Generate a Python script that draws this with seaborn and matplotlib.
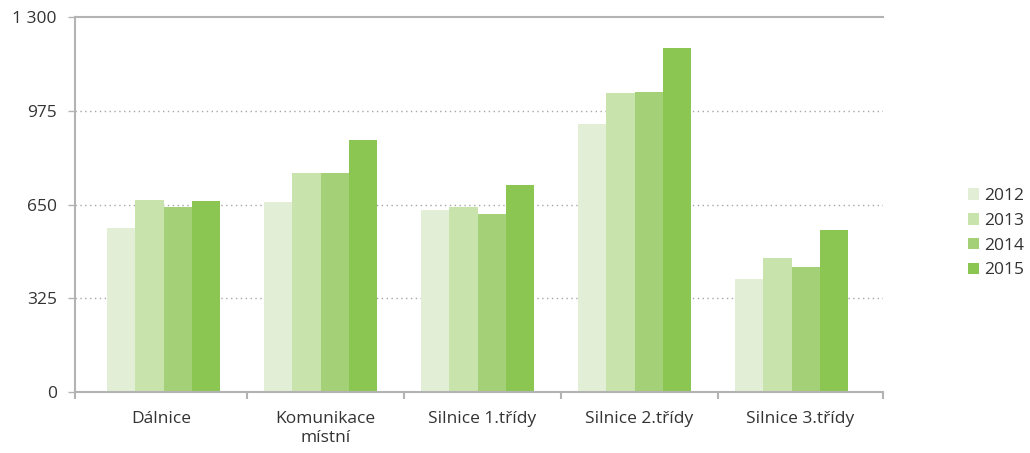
#!/usr/bin/env python

import matplotlib.pyplot as plt
import pandas as pd
import seaborn as sns

CATEGORIES = ["Dálnice", "Komunikace\nmístní", "Silnice 1.třídy", "Silnice 2.třídy", "Silnice 3.třídy"]
YEARS = ["2012", "2013", "2014", "2015"]
V2012 = [568, 659, 631, 929, 392]
V2013 = [665, 759, 641, 1036, 464]
V2014 = [641, 759, 617, 1040, 433]
V2015 = [662, 873, 717, 1192, 562]
COLORS = ["#e2efd6", "#c8e3ac", "#a4d077", "#8bc653"]
YTICKS = [0, 325, 650, 975, 1300]
YTICK_LABELS = ["0", "325", "650", "975", "1 300"]


def main():
    rows = []
    for year, vals in zip(YEARS, [V2012, V2013, V2014, V2015]):
        for cat, v in zip(CATEGORIES, vals):
            rows.append({"kategorie": cat, "rok": year, "hodnota": v})
    data = pd.DataFrame(rows)

    sns.set_style("white")
    plt.rcParams["font.family"] = ["Open Sans", "DejaVu Sans"]
    grey = "#b3b3b3"
    text = "#333333"

    fig = plt.figure(figsize=(10.3, 4.53), dpi=100)
    ax = fig.add_axes([75 / 1030, 1 - 392 / 453, 808 / 1030, 375 / 453])

    sns.barplot(data=data, x="kategorie", y="hodnota", hue="rok",
                order=CATEGORIES, hue_order=YEARS, palette=COLORS,
                width=0.72, gap=0, saturation=1, linewidth=0, ax=ax)

    # the groups sit a bit off the category slots, like the original
    left, right = -0.564, 4.582
    ax.set_xlim(left, right)
    ax.set_ylim(0, 1300)
    ax.set_yticks(YTICKS, YTICK_LABELS)
    ax.set_xlabel("")
    ax.set_ylabel("")

    bounds = [left] + [i + 0.53 for i in range(4)] + [right]
    mids = [(a + b) / 2 for a, b in zip(bounds[:-1], bounds[1:])]
    ax.set_xticks(bounds, minor=True)
    ax.set_xticks(mids, CATEGORIES)

    # dotted grid lines behind bars
    ax.set_axisbelow(True)
    for y in YTICKS[1:4]:
        ax.axhline(y, color="#a6a6a6", linestyle=(0, (1, 2.5)), linewidth=1, zorder=0)

    for side in ["left", "bottom", "top"]:
        ax.spines[side].set_visible(True)
        ax.spines[side].set_color(grey)
        ax.spines[side].set_linewidth(1.5)
    ax.spines["right"].set_visible(False)

    ax.tick_params(axis="x", which="minor", bottom=True, length=5, width=1.5, color=grey)
    ax.tick_params(axis="x", which="major", bottom=False, length=0, pad=14, labelsize=12.5, labelcolor=text)
    ax.tick_params(axis="y", left=True, length=5, width=1, color=grey, pad=8, labelsize=12.5, labelcolor=text)

    leg = ax.legend(loc="center left", bbox_to_anchor=(1.105, 0.423), frameon=False,
                    fontsize=12.5, handlelength=0.65, handleheight=0.65, handletextpad=0.3,
                    labelspacing=0.5, borderpad=0, borderaxespad=0)
    for t in leg.get_texts():
        t.set_color(text)

    plt.savefig("out.png", dpi=100)
    plt.close()


if __name__ == '__main__':
    main()
